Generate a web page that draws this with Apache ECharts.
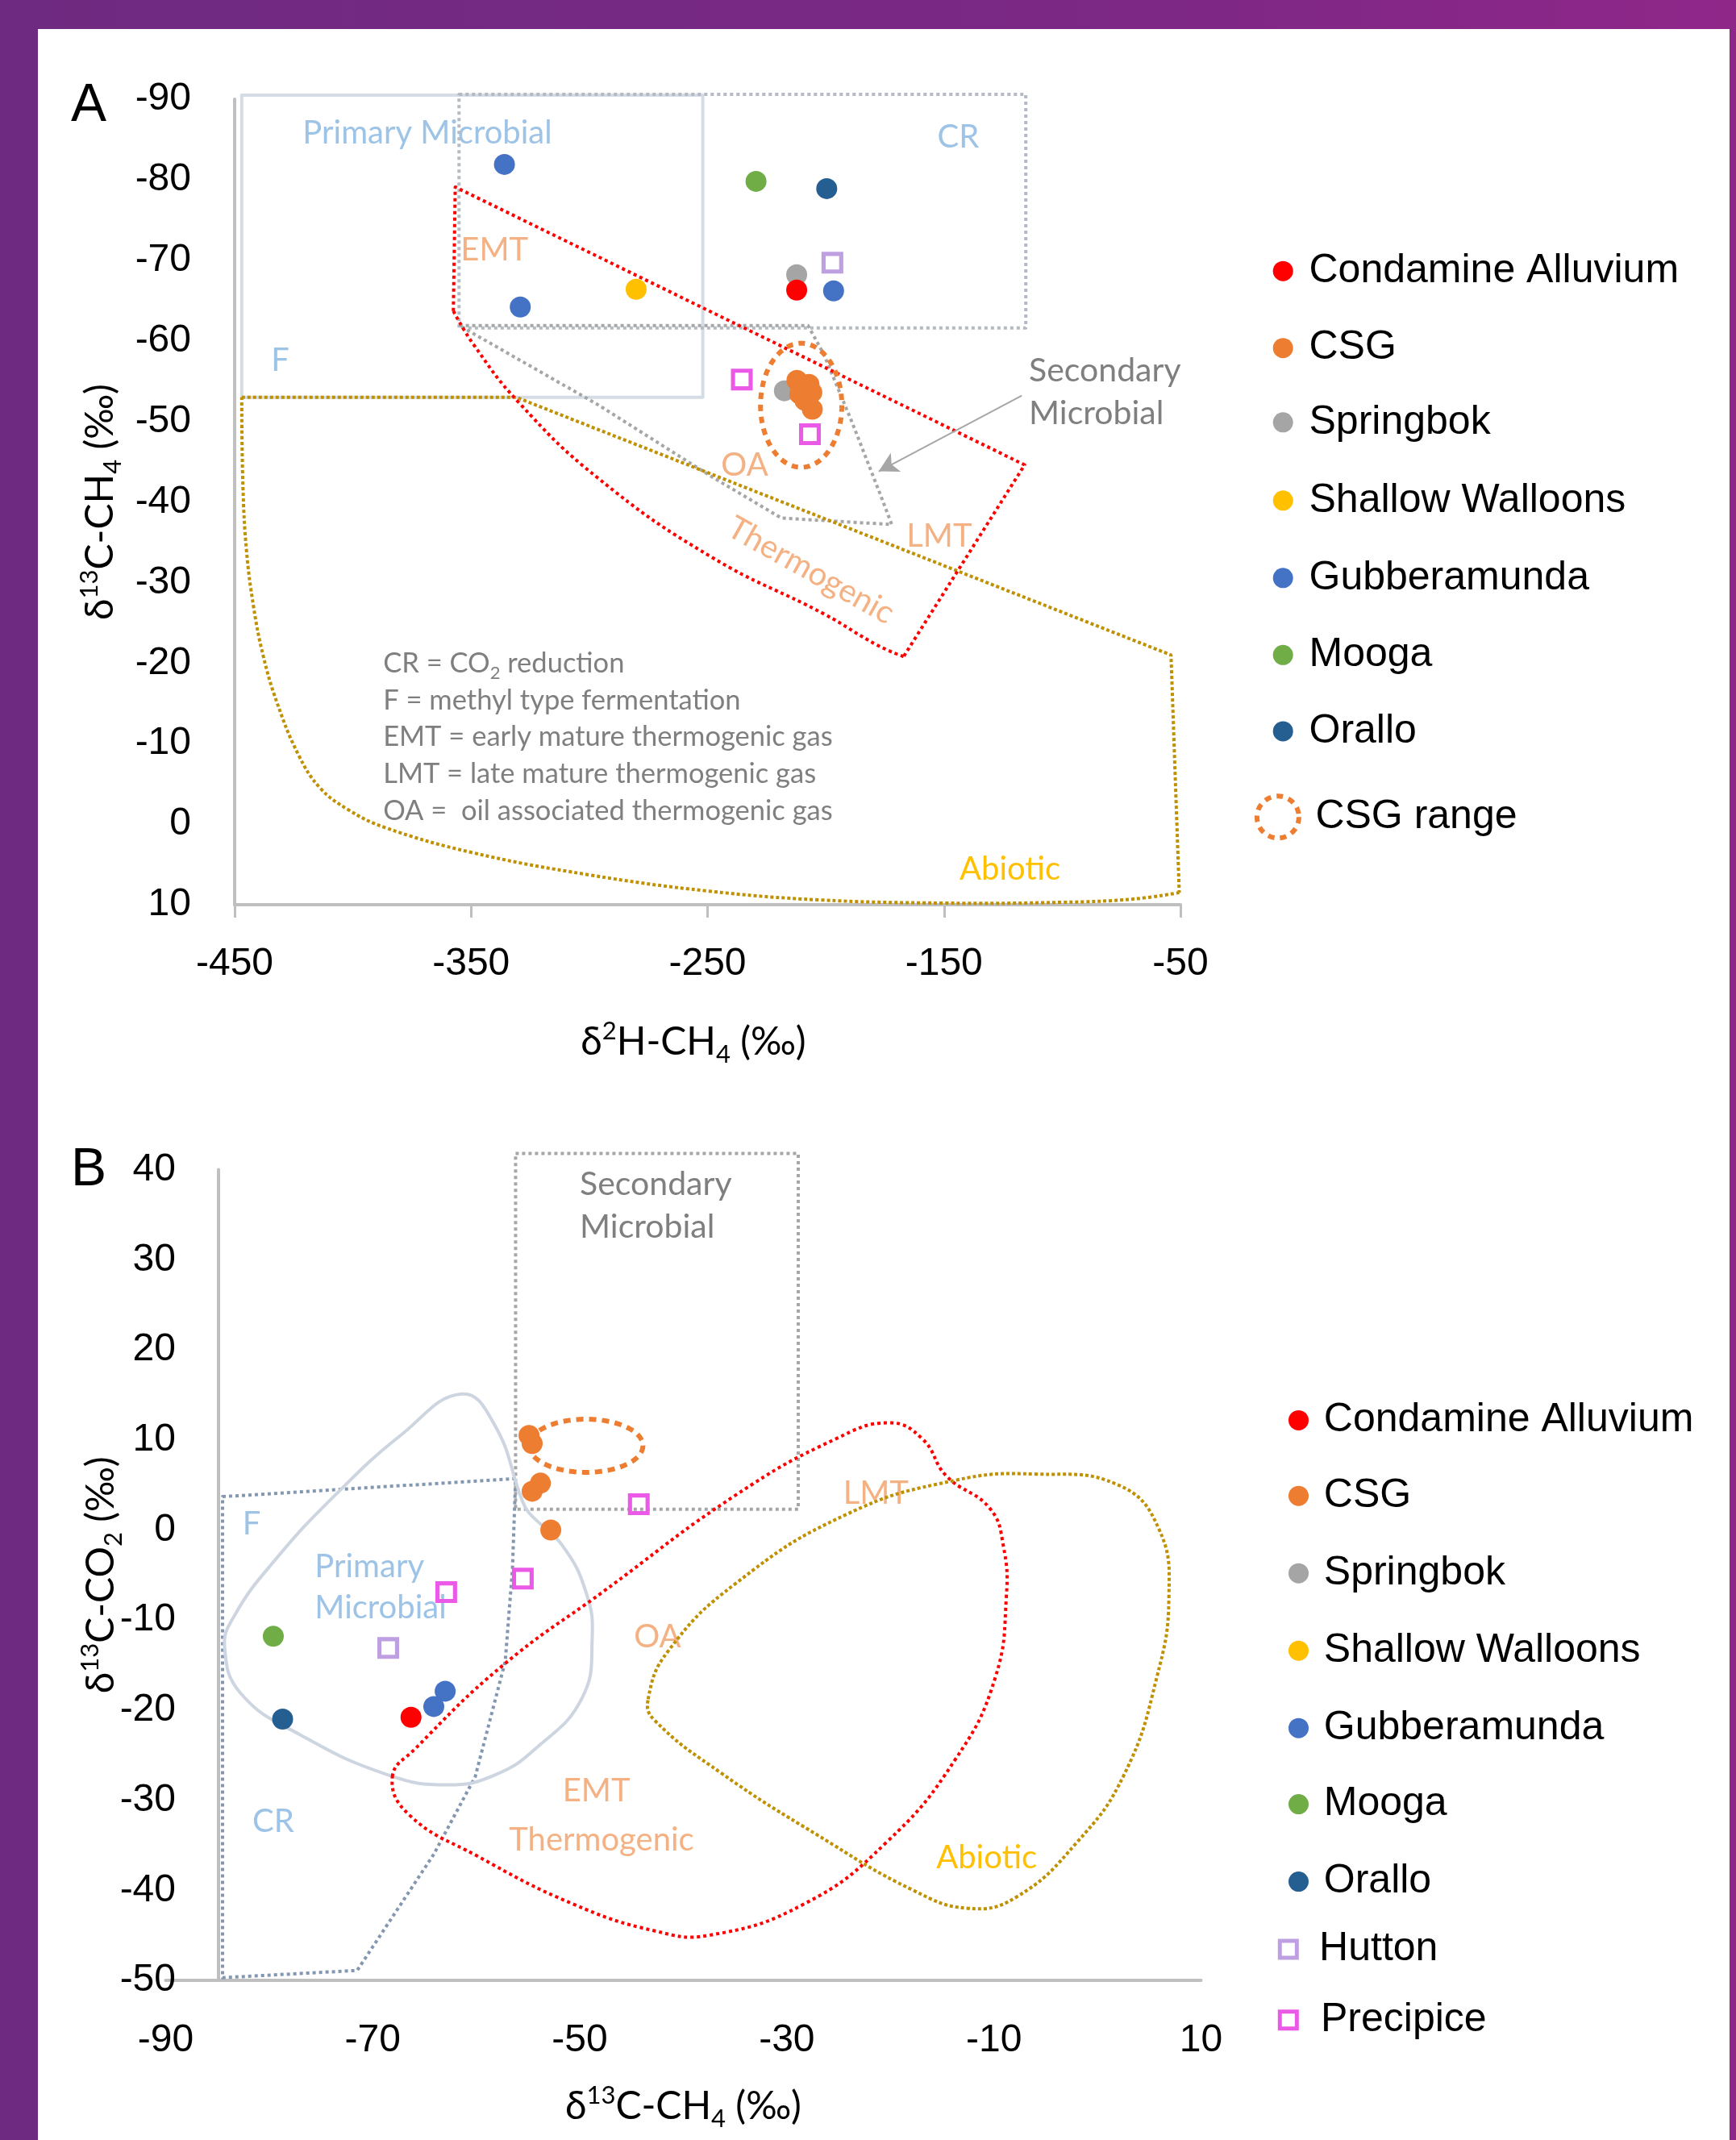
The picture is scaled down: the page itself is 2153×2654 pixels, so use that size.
<!DOCTYPE html>
<html>
<head>
<meta charset="utf-8">
<script src="https://cdn.jsdelivr.net/npm/echarts/dist/echarts.min.js"></script>
<style>
  html, body { margin: 0; padding: 0; }
  #frame { position: absolute; left: 0; top: 0; width: 2153px; height: 2654px;
           background: linear-gradient(90deg, #6E2A80 0%, #7A2884 60%, #8F2789 100%); }
  #sheet { position: absolute; left: 47px; top: 36px; width: 2098px; height: 2618px; background: #ffffff; }
  #chart { position: absolute; left: 0; top: 0; width: 2153px; height: 2654px; }
</style>
</head>
<body>
<div id="frame"></div>
<div id="sheet"></div>
<div id="chart"></div>
<script>
// ---------- Panel A: δ2H-CH4 (x) vs δ13C-CH4 (y) ----------
const springbokA  = [[-212.3, -68.2], [-217.5, -53.8]];
const condamineA  = [[-212.3, -66.3]];
const csgA        = [[-212.2, -55.1], [-207.1, -54.6], [-211.0, -53.4], [-205.9, -53.6], [-208.8, -52.6], [-205.7, -51.5]];
const shallowA    = [[-280.2, -66.4]];
const gubberA     = [[-335.9, -81.9], [-329.2, -64.2], [-196.7, -66.2]];
const moogaA      = [[-229.5, -79.8]];
const oralloA     = [[-199.6, -78.9]];
const huttonA     = [[-197.2, -69.7]];
const precipiceA  = [[-235.5, -55.2], [-206.7, -48.4]];
const csgRangeA   = [[-210.4, -52.0, 17.2, 7.7]];   // centre x, centre y, half-width, half-height

// ---------- Panel B: δ13C-CH4 (x) vs δ13C-CO2 (y) ----------
const condamineB  = [[-66.3, -20.8]];
const csgB        = [[-54.9, 10.5], [-54.6, 9.6], [-53.8, 5.2], [-54.6, 4.3], [-52.8, 0.0]];
const gubberB     = [[-63.0, -17.9], [-64.1, -19.6]];
const moogaB      = [[-79.6, -11.8]];
const oralloB     = [[-78.7, -21.0]];
const huttonB     = [[-68.5, -13.1]];
const precipiceB  = [[-44.3, 2.85], [-55.5, -5.4], [-62.9, -6.9]];
const csgRangeB   = [[-49.4, 9.35, 5.5, 2.95]];

// ---------- Genetic field outlines (data space) ----------
const primaryBoxA   = [[-447, -90.5], [-252, -90.5], [-252, -53], [-447, -53]];
const crBoxA        = [[-355.1, -90.6], [-115.4, -90.6], [-115.4, -61.6], [-355.1, -61.6]];
const secondaryA    = [[-355, -61.9], [-207.5, -61.9], [-200.8, -58.3], [-188.9, -49.9], [-176.9, -40.9], [-172.1, -37.2],
                       [-218.8, -38.0], [-248.6, -43.2], [-296.5, -52.1]];
const thermoEdgeA   = [[-357.5, -63.7], [-356.7, -79.1], [-115.9, -44.6], [-167.1, -20.8]];
const thermoCurveA  = [[-167.1, -20.8], [-178.1, -22.2], [-200.8, -26.1], [-248.6, -33.2], [-296.5, -43.0],
                       [-330, -52.4], [-349.1, -59.6], [-357.5, -63.7]];
const abioticEdgeA  = [[-447, -53], [-331, -53], [-54, -21], [-50.5, 8.5]];
const abioticCurveA = [[-50.5, 8.5], [-70, 9.3], [-100, 9.7], [-150, 9.8], [-203, 9.4], [-250, 8.3], [-300, 6.3], [-350, 3.5],
                       [-386.6, 0.4], [-402, -1.8], [-413.9, -4.5], [-423, -8.6], [-432.1, -15.1], [-438, -21], [-442, -27],
                       [-445, -34], [-446.5, -42], [-447, -53]];

const secondaryBoxB = [[-56.2, 41.8], [-28.9, 41.8], [-28.9, 2.3], [-56.2, 2.3]];
const fcrB          = [[-84.5, 3.7], [-56.2, 5.7], [-56.5, -4.3], [-57.2, -14.6], [-60.1, -27.4], [-64.1, -36.0], [-71.5, -48.9], [-84.5, -49.7]];
const primaryB      = [[-61.4, 15.1], [-58.2, 11.6], [-55.6, 3.4], [-54.9, 1.9], [-51.7, -1.7], [-49.4, -6.9], [-48.8, -12.0],
                       [-49.8, -18.7], [-54.3, -24.3], [-58.2, -27.2], [-62.7, -28.3], [-68.5, -27.2], [-76.9, -22.8], [-82.7, -18.2],
                       [-84.3, -13.0], [-83.3, -9.4], [-79.4, -3.3], [-73.6, 3.9], [-67.2, 10.6]];
const thermogenicB  = [[-68.1, -27.4], [-65.9, -24.3], [-57.5, -15.1], [-47.8, -6.9], [-34.9, 3.9], [-25.3, 10.1], [-20.1, 11.9],
                       [-16.9, 10.1], [-14.6, 6.0], [-10.4, 2.4], [-9.1, -1.7], [-8.8, -7.4], [-9.9, -16.5], [-13.8, -25.6],
                       [-20.4, -34.7], [-28.3, -41.5], [-37.5, -45.0], [-42.8, -44.5], [-50.7, -41.5], [-59.9, -36.2], [-66.5, -31.6]];
const abioticB      = [[-43.4, -18.8], [-41.5, -13.5], [-34.9, -5.9], [-24.3, 1.7], [-13.8, 5.5], [-5.9, 6.2], [2.0, 5.0], [5.9, 0.2],
                       [6.9, -7.4], [5.7, -16.5], [2.6, -27.1], [-2.0, -34.7], [-7.9, -40.8], [-12.5, -42.0], [-17.8, -40.0],
                       [-27.0, -33.9], [-36.2, -27.1], [-42.8, -21.1]];

// arrow from the "Secondary Microbial" caption to its field
const arrowA = [[-117.1, -53.2], [-177.6, -43.8]];

// ---------- Text on the plots ----------
const notesA = [
  ['Primary Microbial', -368.5, -85.8, 'blue'],
  ['CR', -144, -85.3, 'blue'],
  ['EMT', -340.1, -71.3, 'orange'],
  ['F', -430.7, -57.6, 'blue'],
  ['OA', -234.3, -44.5, 'orange'],
  ['LMT', -152.0, -35.7, 'orange'],
  ['Thermogenic', -206.3, -31.5, 'orange', -29.3],
  ['Secondary\nMicrobial', -114.1, -53.6, 'gray'],
  ['Abiotic', -122.1, 5.6, 'abiotic'],
  ['CR = CO{s|2} reduction\nF = methyl type fermentation\nEMT = early mature thermogenic gas\nLMT = late mature thermogenic gas\nOA =  oil associated thermogenic gas', -387.2, -10.8, 'key']
];
const notesB = [
  ['Secondary\nMicrobial', -50.0, 36.0, 'gray'],
  ['F', -81.7, 0.7, 'blue'],
  ['Primary\nMicrobial', -75.6, -6.35, 'blueLeft'],
  ['CR', -79.6, -32.4, 'blue'],
  ['LMT', -21.4, 4.1, 'orange'],
  ['OA', -42.5, -11.9, 'orange'],
  ['EMT', -48.4, -29.0, 'orange'],
  ['Thermogenic', -47.9, -34.4, 'orange'],
  ['Abiotic', -10.7, -36.4, 'abiotic']
];

const legendNamesA = ['Condamine Alluvium', 'CSG', 'Springbok', 'Shallow Walloons', 'Gubberamunda', 'Mooga', 'Orallo'];
const legendNamesB = ['Condamine Alluvium', 'CSG', 'Springbok', 'Shallow Walloons', 'Gubberamunda', 'Mooga', 'Orallo', 'Hutton', 'Precipice'];

// ---------- styling ----------
const TICK_FONT = '"Liberation Sans", Arial, sans-serif';
const NOTE_FONT = 'Lato, "Open Sans", sans-serif';
const COLORS = {
  'Condamine Alluvium': '#FF0000', 'CSG': '#ED7D31', 'Springbok': '#A5A5A5', 'Shallow Walloons': '#FFC000',
  'Gubberamunda': '#4472C4', 'Mooga': '#70AD47', 'Orallo': '#255E91', 'Hutton': '#BE9FE1', 'Precipice': '#EB5AE6'
};
// hollow square: outer square with an inner counter-wound hole
const HOLLOW_SQUARE = 'path://M0,0H20V20H0Z M3.8,3.8V16.2H16.2V3.8Z';
const NOTE_STYLE = {
  blue:     { fill: '#9DC3E6', fontSize: 40, align: 'center' },
  blueLeft: { fill: '#9DC3E6', fontSize: 40, align: 'left', lineHeight: 51 },
  orange:   { fill: '#F4B183', fontSize: 40, align: 'center' },
  gray:     { fill: '#7F7F7F', fontSize: 41, align: 'left', lineHeight: 53 },
  abiotic:  { fill: '#FFC000', fontSize: 40, align: 'center' },
  key:      { fill: '#7F7F7F', fontSize: 34.5, align: 'left', lineHeight: 45.7,
              rich: { s: { fontSize: 22, lineHeight: 22, verticalAlign: 'bottom', fill: '#7F7F7F', fontFamily: NOTE_FONT } } }
};

function outline(pts, g, o) {
  return {
    type: 'custom', xAxisIndex: g, yAxisIndex: g, silent: true, z: o.z || 2,
    data: pts.map(p => p.slice()),
    renderItem: function (params, api) {
      if (params.dataIndex !== 0) return null;
      const points = pts.map(p => api.coord(p));
      return {
        type: o.open ? 'polyline' : 'polygon',
        shape: { points: points, smooth: o.smooth || 0 },
        style: { fill: 'none', stroke: o.color, lineWidth: o.width, lineDash: o.dash || null, lineCap: 'butt', lineJoin: 'round' }
      };
    }
  };
}

function rangeEllipse(rng, g, dash) {
  return {
    name: 'CSG range', type: 'custom', xAxisIndex: g, yAxisIndex: g, silent: true, z: 3,
    data: rng,
    renderItem: function (params, api) {
      const c = api.coord([api.value(0), api.value(1)]);
      const s = api.size([api.value(2), api.value(3)]);
      const pts = [];
      for (let k = 0; k < 120; k++) {
        const t = k / 120 * Math.PI * 2;
        pts.push([c[0] + s[0] * Math.cos(t), c[1] + s[1] * Math.sin(t)]);
      }
      return {
        type: 'polygon', shape: { points: pts },
        style: { fill: 'none', stroke: '#ED7D31', lineWidth: 6, lineDash: dash, lineCap: 'butt' }
      };
    }
  };
}

function notes(list, g) {
  return {
    type: 'custom', xAxisIndex: g, yAxisIndex: g, silent: true, z: 1,
    data: list.map(n => [n[1], n[2]]),
    renderItem: function (params, api) {
      const n = list[params.dataIndex];
      const st = NOTE_STYLE[n[3]];
      const p = api.coord([api.value(0), api.value(1)]);
      const style = {
        text: n[0], fill: st.fill, fontSize: st.fontSize, fontFamily: NOTE_FONT,
        align: st.align, verticalAlign: 'middle'
      };
      if (st.lineHeight) style.lineHeight = st.lineHeight;
      if (st.rich) style.rich = st.rich;
      return {
        type: 'text', x: p[0], y: p[1],
        rotation: n[4] ? n[4] * Math.PI / 180 : 0,
        style: style
      };
    }
  };
}

function dots(name, data, g) {
  return {
    name: name, type: 'scatter', xAxisIndex: g, yAxisIndex: g, z: 4,
    symbol: 'circle', symbolSize: 26, data: data,
    itemStyle: { color: COLORS[name], opacity: 1 },
    emphasis: { disabled: true }
  };
}
function squares(name, data, g) {
  return {
    name: name, type: 'scatter', xAxisIndex: g, yAxisIndex: g, z: 5,
    symbol: HOLLOW_SQUARE, symbolSize: 27, symbolKeepAspect: true, data: data,
    itemStyle: { color: COLORS[name], opacity: 1 },
    emphasis: { disabled: true }
  };
}

const titleRich = {
  m:   { fontFamily: NOTE_FONT, fontSize: 48, color: '#000', lineHeight: 60 },
  sup: { fontFamily: NOTE_FONT, fontSize: 31, color: '#000', lineHeight: 33, verticalAlign: 'top' },
  sub: { fontFamily: NOTE_FONT, fontSize: 31, color: '#000', lineHeight: 33, verticalAlign: 'bottom' }
};
const axisLineStyle = { color: '#BFBFBF', width: 4 };
const tickLabel = { fontFamily: TICK_FONT, fontSize: 48, color: '#000' };

function legendEntry(item, cx, cy, w, h, textX, extra) {
  const left = cx - w / 2;
  const boxH = Math.max(h, 52);
  const cfg = {
    data: [item], left: left, top: cy - boxH / 2, padding: 0, orient: 'vertical',
    itemWidth: w, itemHeight: h, selectedMode: false,
    textStyle: { fontFamily: TICK_FONT, fontSize: 50, color: '#000', lineHeight: 52,
                 padding: [0, 0, 0, Math.max(0, textX - left - w - 5)] }
  };
  return Object.assign(cfg, extra || {});
}

const legends = [];
const rowsA = [336.2, 431.7, 523.8, 620.8, 716.8, 812.3, 906.9];
legendNamesA.forEach((n, i) => legends.push(legendEntry(n, 1591.2, rowsA[i], 25, 25, 1623.5, { itemStyle: { borderWidth: 0 } })));
legends.push(legendEntry({ name: 'CSG range', icon: 'circle',
  itemStyle: { color: 'rgba(255,255,255,0)', borderColor: '#ED7D31', borderWidth: 6, borderType: [8, 7] } },
  1582.9, 1010.3, 54, 52, 1629.4));
const rowsB = [1761.4, 1855.2, 1951.2, 2047.2, 2143.2, 2237.6, 2333.6, 2417.5, 2505.3];
legendNamesB.forEach((n, i) => {
  if (n === 'Hutton' || n === 'Precipice') {
    legends.push(legendEntry(n, 1597.8, rowsB[i], 26, 26, n === 'Hutton' ? 1636.1 : 1638, { itemStyle: { borderWidth: 0 } }));
  } else {
    legends.push(legendEntry(n, 1610.5, rowsB[i], 25, 25, 1641.8, { itemStyle: { borderWidth: 0 } }));
  }
});

const option = {
  animation: false,
  backgroundColor: 'transparent',
  grid: [
    { left: 291, top: 123, width: 1173, height: 999, outerBoundsMode: 'none', containLabel: false },
    { left: 205.4, top: 1450.6, width: 1284.1, height: 1005.4, outerBoundsMode: 'none', containLabel: false }
  ],
  xAxis: [
    { gridIndex: 0, type: 'value', min: -450, max: -50, interval: 100,
      axisLine: { show: true, onZero: false, lineStyle: axisLineStyle },
      axisTick: { show: true, length: 16, lineStyle: { color: '#BFBFBF', width: 3 } },
      axisLabel: Object.assign({ margin: 50 }, tickLabel),
      splitLine: { show: false },
      name: '{m|δ}{sup|2}{m|H-CH}{sub|4}{m| (‰)}', nameLocation: 'middle', nameGap: 141, nameMoveOverlap: false,
      nameTextStyle: { rich: titleRich, padding: [0, 35, 0, 0] } },
    { gridIndex: 1, type: 'value', min: -90, max: 10, interval: 20,
      axisLine: { show: true, onZero: false, lineStyle: axisLineStyle },
      axisTick: { show: false },
      axisLabel: Object.assign({ margin: 51 }, tickLabel),
      splitLine: { show: false },
      name: '{m|δ}{sup|13}{m|C-CH}{sub|4}{m| (‰)}', nameLocation: 'middle', nameGap: 127, nameMoveOverlap: false,
      nameTextStyle: { rich: titleRich } }
  ],
  yAxis: [
    { gridIndex: 0, type: 'value', min: -90, max: 10, interval: 10, inverse: true,
      axisLine: { show: true, onZero: false, lineStyle: axisLineStyle },
      axisTick: { show: false },
      axisLabel: Object.assign({ margin: 54 }, tickLabel),
      splitLine: { show: false },
      name: '{m|δ}{sup|13}{m|C-CH}{sub|4}{m| (‰)}', nameLocation: 'middle', nameGap: 136, nameRotate: 90, nameMoveOverlap: false,
      nameTextStyle: { rich: titleRich } },
    { gridIndex: 1, type: 'value', min: -50, max: 40, interval: 10, offset: -65.6,
      axisLine: { show: true, onZero: false, lineStyle: axisLineStyle },
      axisTick: { show: false },
      axisLabel: Object.assign({ margin: 53 }, tickLabel),
      splitLine: { show: false },
      name: '{m|δ}{sup|13}{m|C-CO}{sub|2}{m| (‰)}', nameLocation: 'middle', nameGap: 115, nameRotate: 90, nameMoveOverlap: false,
      nameTextStyle: { rich: titleRich } }
  ],
  legend: legends,
  graphic: [
    { type: 'text', x: 110, y: 132, z: 10, style: { text: 'A', fontFamily: TICK_FONT, fontSize: 66, fill: '#000', align: 'center', verticalAlign: 'middle' } },
    { type: 'text', x: 110, y: 1452, z: 10, style: { text: 'B', fontFamily: TICK_FONT, fontSize: 66, fill: '#000', align: 'center', verticalAlign: 'middle' } }
  ],
  series: [
    // panel A fields
    notes(notesA, 0),
    outline(primaryBoxA,   0, { color: '#D6DCE5', width: 4 }),
    outline(crBoxA,        0, { color: '#B4BAC4', width: 4, dash: [4, 4] }),
    outline(secondaryA,    0, { color: '#A6A6A6', width: 4, dash: [4, 4] }),
    outline(abioticEdgeA,  0, { color: '#BF9000', width: 4, dash: [4, 3], open: true }),
    outline(abioticCurveA, 0, { color: '#BF9000', width: 4, dash: [4, 3], open: true, smooth: 0.4 }),
    outline(thermoEdgeA,   0, { color: '#FF0000', width: 4, dash: [4, 4], open: true }),
    outline(thermoCurveA,  0, { color: '#FF0000', width: 4, dash: [4, 4], open: true, smooth: 0.45 }),
    { type: 'line', xAxisIndex: 0, yAxisIndex: 0, data: [], silent: true,
      markLine: { silent: true, animation: false, symbol: ['none', 'arrow'], symbolSize: [20, 24],
        label: { show: false }, lineStyle: { color: '#A6A6A6', width: 2, type: 'solid' },
        data: [[{ coord: arrowA[0] }, { coord: arrowA[1] }]] } },
    rangeEllipse(csgRangeA, 0, [8, 7]),
    dots('Springbok', springbokA, 0),
    dots('Condamine Alluvium', condamineA, 0),
    dots('CSG', csgA, 0),
    dots('Shallow Walloons', shallowA, 0),
    dots('Gubberamunda', gubberA, 0),
    dots('Mooga', moogaA, 0),
    dots('Orallo', oralloA, 0),
    squares('Hutton', huttonA, 0),
    squares('Precipice', precipiceA, 0),

    // panel B fields
    notes(notesB, 1),
    outline(secondaryBoxB, 1, { color: '#A6A6A6', width: 4, dash: [4, 4] }),
    outline(fcrB,          1, { color: '#8497B0', width: 4, dash: [4, 4] }),
    outline(primaryB,      1, { color: '#CDD5E0', width: 4, smooth: 0.45 }),
    outline(thermogenicB,  1, { color: '#FF0000', width: 4, dash: [4, 4], smooth: 0.45 }),
    outline(abioticB,      1, { color: '#BF9000', width: 4, dash: [4, 3], smooth: 0.45 }),
    rangeEllipse(csgRangeB, 1, [9, 7]),
    dots('Condamine Alluvium', condamineB, 1),
    dots('CSG', csgB, 1),
    dots('Gubberamunda', gubberB, 1),
    dots('Mooga', moogaB, 1),
    dots('Orallo', oralloB, 1),
    squares('Hutton', huttonB, 1),
    squares('Precipice', precipiceB, 1)
  ]
};

const chart = echarts.init(document.getElementById('chart'), null, { renderer: 'canvas', width: 2153, height: 2654 });
chart.setOption(option);
</script>
</body>
</html>
